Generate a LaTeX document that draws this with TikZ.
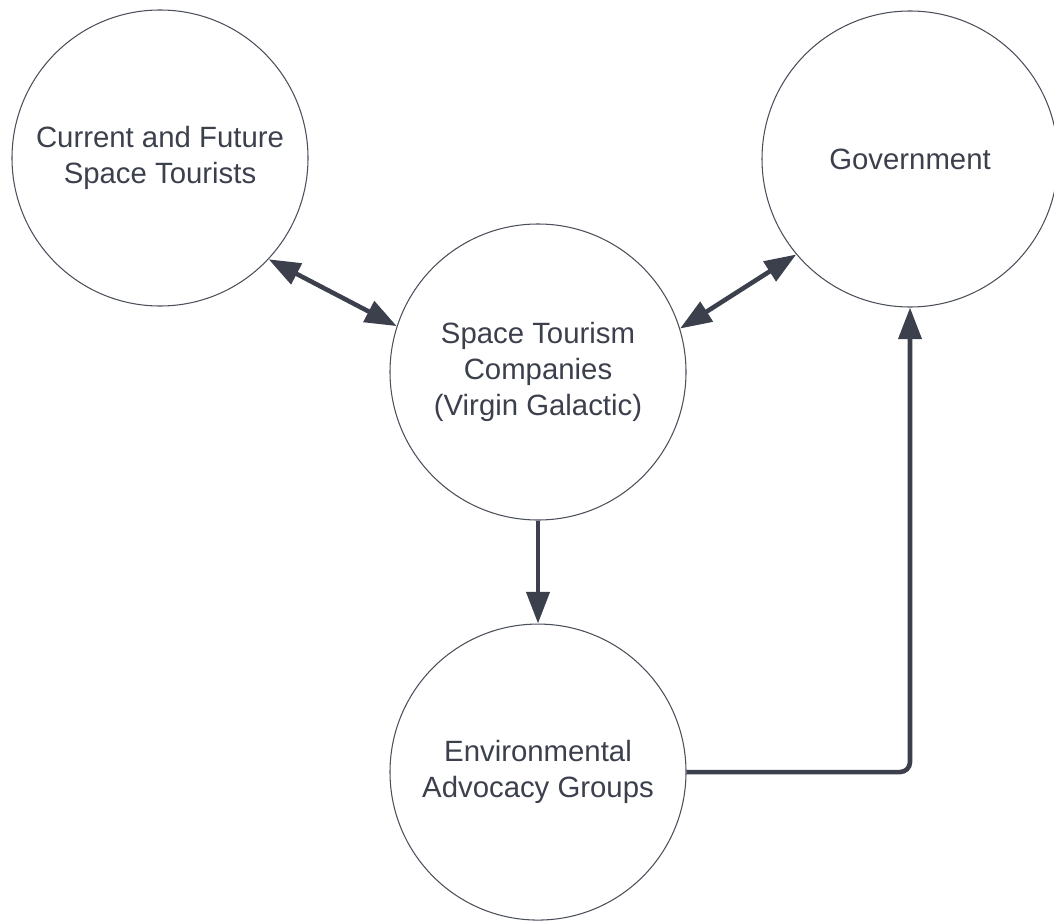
\documentclass[tikz,border=0pt]{standalone}
\usepackage{fontspec}
\setmainfont{Liberation Sans}
\usetikzlibrary{arrows.meta,positioning}

\definecolor{ink}{HTML}{3B404C}
\definecolor{rim}{HTML}{4A4F5A}

\begin{document}
\begin{tikzpicture}[node distance=2.06cm,
  actor/.style={draw=rim, line width=0.6pt, circle, minimum size=5.92cm, inner sep=0pt,
    text=ink, align=center, font=\fontsize{16.7}{20.4}\selectfont},
  link/.style={draw=ink, line width=2.6pt, -{Triangle[length=18pt,width=13pt]}},
  both/.style={link, {Triangle[length=18pt,width=13pt]}-{Triangle[length=18pt,width=13pt]}}]
  \useasboundingbox (0,0) rectangle (21.08,-18.42);
  \node[actor] (stc) at (10.76,-7.44) {Space Tourism\\Companies\\(Virgin Galactic)};
  \node[actor] (tour) at (3.2,-3.16) {Current and Future\\Space Tourists};
  \node[actor] (gov) at (18.2,-3.18) {Government};
  \node[actor, below=of stc] (env) {Environmental\\Advocacy Groups};
  % who talks to whom
  \draw[both] (tour.-43) -- (stc.162);
  \draw[both] (stc.17.6) -- (gov.-140);
  \draw[link] (stc) -- (env);
  \draw[link, rounded corners=0.2cm] (env.east) -| (gov.south);
\end{tikzpicture}
\end{document}
